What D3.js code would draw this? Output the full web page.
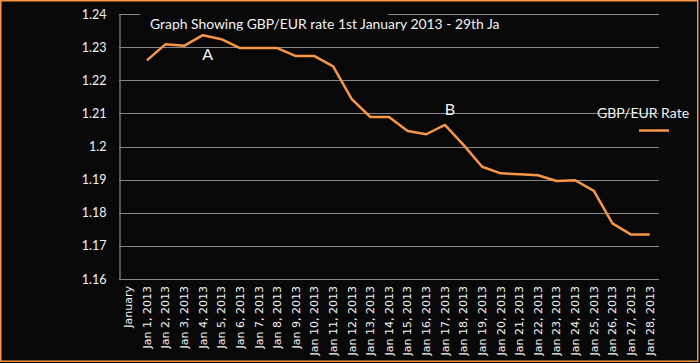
<!DOCTYPE html>
<html lang="en">
<head>
  <meta charset="utf-8">
  <title>GBP/EUR rate</title>
  <script src="https://cdn.jsdelivr.net/npm/d3@7"></script>
  <style>
    html, body { margin: 0; padding: 0; background: #000; }
    svg { display: block; }
  </style>
</head>
<body>
  <div id="chart"></div>

  <script>
    // categories on the x axis (first one has no value)
    const categories = ["January"].concat(d3.range(1, 29).map(d => `Jan ${d}, 2013`))
    const rates = [null,
      1.2260, 1.2309, 1.2304, 1.2336, 1.2324, 1.2297, 1.2297, 1.2297, 1.2273, 1.2273,
      1.2242, 1.2143, 1.2089, 1.2089, 1.2047, 1.2037, 1.2065, 1.2005, 1.1939, 1.1919,
      1.1916, 1.1913, 1.1896, 1.1898, 1.1866, 1.1768, 1.1734, 1.1734]
    const yTicks = [1.16, 1.17, 1.18, 1.19, 1.2, 1.21, 1.22, 1.23, 1.24]
    const notes = [{ label: "A", cat: "Jan 4, 2013" }, { label: "B", cat: "Jan 17, 2013" }]

    const width = 700, height = 363
    const orange = "#f79646"

    const svg = d3.select("#chart").append("svg")
      .attr("width", width)
      .attr("height", height)

    svg.append("rect")
      .attr("x", 0.75).attr("y", 0.75)
      .attr("width", width - 3).attr("height", height - 2.5)
      .attr("fill", "#080808")
      .attr("stroke", orange)
      .attr("stroke-width", 1.5)

    const x = d3.scaleBand().domain(categories).range([119, 659])
    const y = d3.scaleLinear().domain([1.16, 1.24]).range([279, 14])

    // gridlines
    svg.append("g")
      .selectAll("line")
      .data(yTicks)
      .join("line")
      .attr("x1", 119).attr("x2", 659)
      .attr("y1", d => Math.round(y(d)) + 0.5)
      .attr("y2", d => Math.round(y(d)) + 0.5)
      .attr("stroke", "#868686")
      .attr("stroke-width", 1.2)

    // y axis
    const yAxis = svg.append("g")
      .attr("transform", "translate(119.5,0)")
      .call(d3.axisLeft(y).tickValues(yTicks).tickSize(0).tickPadding(13).tickFormat(d3.format("")))
    yAxis.select(".domain").attr("stroke", "#868686").attr("stroke-width", 1.2)
    yAxis.selectAll("text")
      .attr("fill", "#f2f2f2")
      .style("font-family", "Lato, 'Open Sans', sans-serif")
      .style("font-size", "12.5px")

    // x axis labels, rotated
    const xAxis = svg.append("g")
      .attr("transform", "translate(0,279)")
      .call(d3.axisBottom(x).tickSize(0).tickPadding(0))
    xAxis.select(".domain").remove()
    xAxis.selectAll("text")
      .attr("fill", "#f2f2f2")
      .attr("transform", "rotate(-90)")
      .attr("text-anchor", "end")
      .attr("x", -7)
      .attr("y", 0)
      .attr("dy", "0.35em")
      .style("font-family", "'DejaVu Sans', sans-serif")
      .style("font-size", "11px")

    // title box hides the top gridline, text is clipped at the bottom
    svg.append("defs").append("clipPath").attr("id", "titleClip")
      .append("rect").attr("x", 0).attr("y", 0).attr("width", width).attr("height", 30.5)
    svg.append("rect")
      .attr("x", 140).attr("y", 8).attr("width", 248).attr("height", 23)
      .attr("fill", "#080808")
    svg.append("text")
      .attr("clip-path", "url(#titleClip)")
      .attr("x", 150).attr("y", 29)
      .attr("fill", "#f2f2f2")
      .style("font-family", "Lato, 'Open Sans', sans-serif")
      .style("font-size", "13.9px")
      .text("Graph Showing GBP/EUR rate 1st January 2013 - 29th Ja")

    // the rate line
    const line = d3.line()
      .defined(d => d.v != null)
      .x(d => x(d.c) + x.bandwidth() / 2)
      .y(d => y(d.v))
    svg.append("path")
      .datum(categories.map((c, i) => ({ c: c, v: rates[i] })))
      .attr("d", line)
      .attr("fill", "none")
      .attr("stroke", orange)
      .attr("stroke-width", 2.5)
      .attr("stroke-linejoin", "round")

    // A / B annotations
    svg.append("g")
      .selectAll("text")
      .data(notes)
      .join("text")
      .attr("x", d => x(d.cat) + x.bandwidth() / 2 + 5)
      .attr("y", (d, i) => i == 0 ? 60 : 115)
      .attr("text-anchor", "middle")
      .attr("fill", "#f2f2f2")
      .style("font-family", "Lato, 'Open Sans', sans-serif")
      .style("font-size", "16px")
      .text(d => d.label)

    // legend
    svg.append("text")
      .attr("x", 597).attr("y", 118)
      .attr("fill", "#f2f2f2")
      .style("font-family", "Lato, 'Open Sans', sans-serif")
      .style("font-size", "14px")
      .text("GBP/EUR Rate")
    svg.append("line")
      .attr("x1", 639).attr("x2", 669)
      .attr("y1", 130.5).attr("y2", 130.5)
      .attr("stroke", orange)
      .attr("stroke-width", 2.5)
  </script>
</body>
</html>
